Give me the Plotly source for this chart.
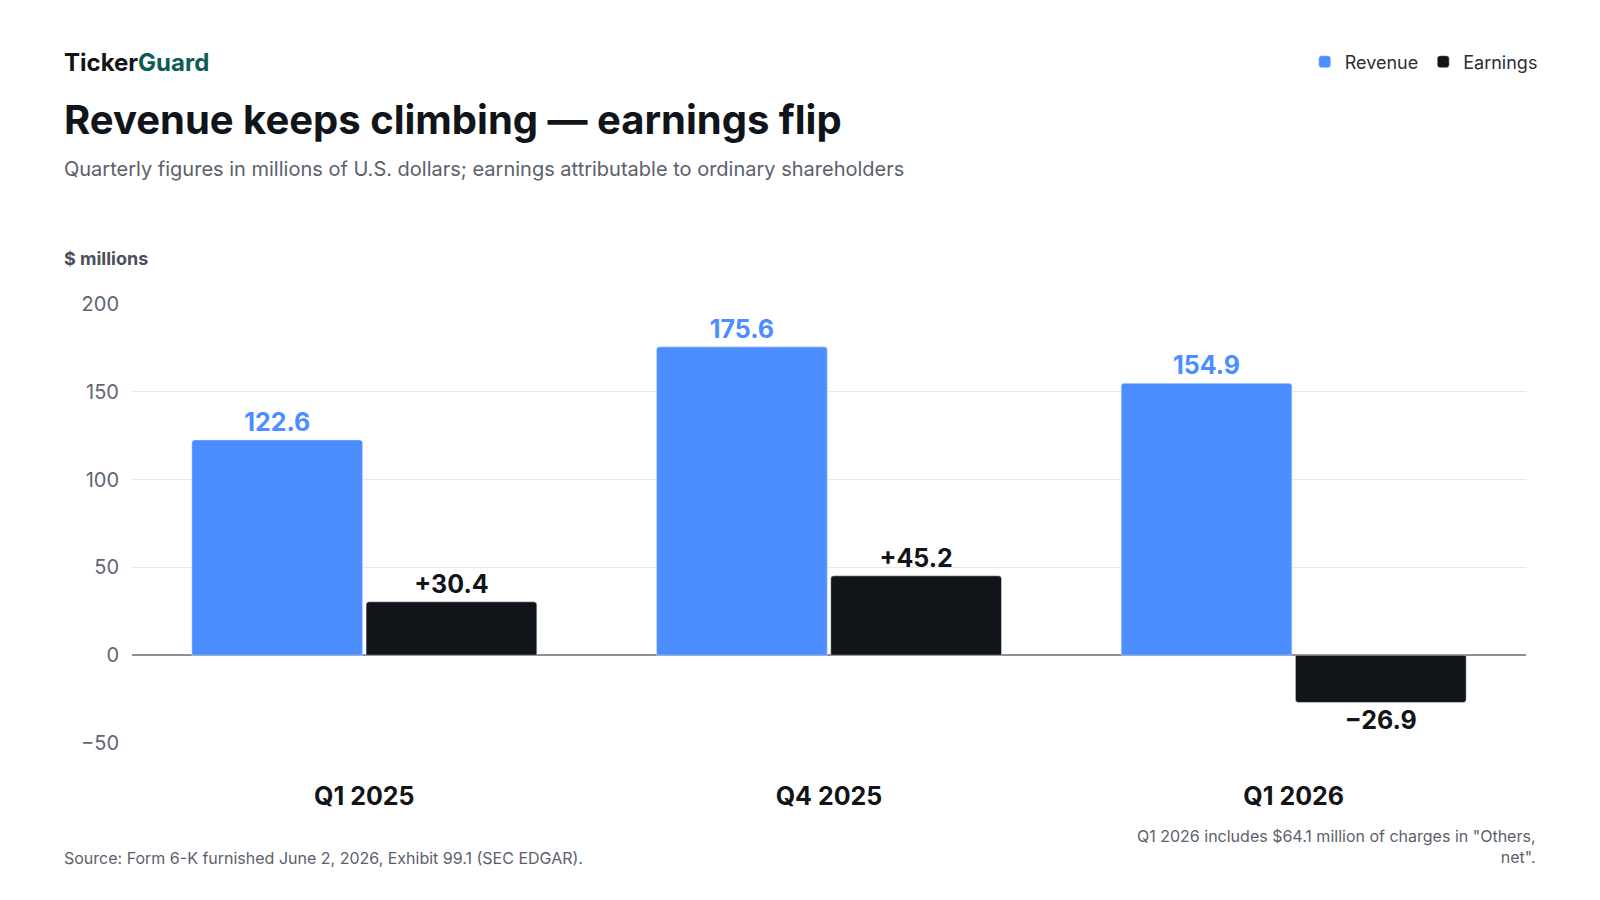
import plotly.graph_objects as go

quarters = ["Q1 2025", "Q4 2025", "Q1 2026"]
revenue = [122.6, 175.6, 154.9]
earnings = [30.4, 45.2, -26.9]
yticks = [-50, 0, 50, 100, 150, 200]

BLUE = "#4C8DFF"
DARK = "#111418"
FONT = "Inter, Noto Sans, sans-serif"
W, H = 1600, 900
L, R, T, B = 124, 82, 296, 165
PW, PH = W - L - R, H - T - B

def fmt_signed(v):
    return ("+" if v >= 0 else "\u2212") + f"{abs(v):.1f}"

fig = go.Figure()
fig.add_bar(x=quarters, y=revenue, name="Revenue", marker=dict(color=BLUE, cornerradius=3),
            text=[f"{v:.1f}" for v in revenue], textposition="outside", cliponaxis=False,
            textfont=dict(color=BLUE, size=25, family=FONT, weight=700))
fig.add_bar(x=quarters, y=earnings, name="Earnings", marker=dict(color=DARK, cornerradius=3),
            text=[fmt_signed(v) for v in earnings], textposition="outside", cliponaxis=False,
            textfont=dict(color=DARK, size=25, family=FONT, weight=700))

fig.update_layout(
    width=W, height=H, paper_bgcolor="white", plot_bgcolor="white",
    font=dict(family=FONT, color="#4a5059"),
    margin=dict(l=L, r=R, t=T, b=B),
    barmode="group", bargap=0.25, bargroupgap=0.02,
    showlegend=True,
    legend=dict(orientation="h", x=1.012, xanchor="right", y=(H - 54) / H, yanchor="middle",
                yref="container", xref="paper",
                font=dict(size=18, color="#2b2f36"), itemwidth=30, traceorder="normal"),
    xaxis=dict(tickfont=dict(size=25, color=DARK, family=FONT, weight=700), ticks="", showgrid=False,
               ticklabelstandoff=36),
    yaxis=dict(range=[-50, 200], tickvals=yticks, ticktext=[("\u2212" + str(abs(t))) if t < 0 else str(t) for t in yticks],
               gridcolor="#e6e8eb", zeroline=True, zerolinecolor="#8a9099", zerolinewidth=2,
               tickfont=dict(size=20, color="#5f6670"), ticklabelstandoff=12),
)

def px_ann(x, y, text, size, color, anchor="left", align="left"):
    fig.add_annotation(xref="paper", yref="paper", x=(x - L) / PW, y=(H - B - y) / PH,
                       xanchor=anchor, yanchor="middle", showarrow=False, text=text, align=align,
                       font=dict(size=size, color=color, family=FONT))

px_ann(54, 54, "<b>Ticker<span style='color:#0f5c55'>Guard</span></b>", 24, DARK)
px_ann(54, 111, "<b>Revenue keeps climbing \u2014 earnings flip</b>", 40, DARK)
px_ann(54, 161, "Quarterly figures in millions of U.S. dollars; earnings attributable to ordinary shareholders", 20, "#5a616b")
px_ann(54, 250, "<b>$ millions</b>", 18, "#4a5059")
px_ann(54, 850, "Source: Form 6-K furnished June 2, 2026, Exhibit 99.1 (SEC EDGAR).", 16, "#5a616b")
px_ann(W - R + 12, 838, "Q1 2026 includes $64.1 million of charges in \"Others,<br>net\".", 16, "#5a616b",
       anchor="right", align="right")

fig.write_html("out.html")
